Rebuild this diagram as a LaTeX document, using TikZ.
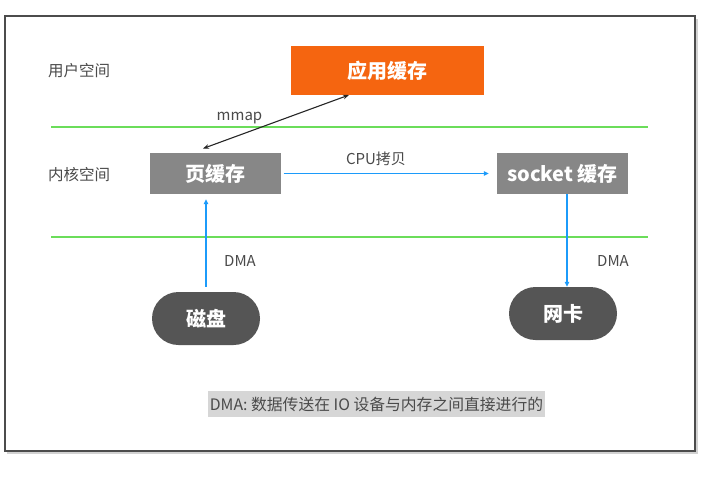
\documentclass[tikz,border=0pt]{standalone}
\usepackage{fontspec}
\setmainfont{Noto Sans CJK SC}
\usetikzlibrary{arrows.meta,positioning}
\definecolor{orangebox}{HTML}{F56510}
\definecolor{graybox}{HTML}{878787}
\definecolor{darkpill}{HTML}{555555}
\definecolor{linegreen}{HTML}{6BDD5A}
\definecolor{arrowblue}{HTML}{1C9BFA}
\definecolor{txtgray}{HTML}{4A4A4A}
\definecolor{notebg}{HTML}{D6D6D6}
\tikzset{
  boxstyle/.style={fill=graybox, text=white, font=\fontsize{20}{22}\selectfont\bfseries, minimum width=131pt, minimum height=41pt, inner sep=0pt},
  appstyle/.style={fill=orangebox, text=white, font=\fontsize{20}{22}\selectfont\bfseries, minimum width=193pt, minimum height=49pt, inner sep=0pt},
  pillstyle/.style={fill=darkpill, text=white, font=\fontsize{20}{22}\selectfont\bfseries, minimum width=108pt, minimum height=53pt, rounded corners=26.5pt, inner sep=0pt},
  lbl/.style={text=txtgray, font=\fontsize{15}{17}\selectfont, inner sep=0pt},
  zone/.style={text=txtgray, font=\fontsize{15.5}{17}\selectfont, inner sep=0pt, anchor=west},
  greenline/.style={draw=linegreen, line width=1.3pt},
  bluearrow/.style={draw=arrowblue, line width=1.2pt, -{Triangle[length=5pt,width=4.5pt]}},
  blackarrow/.style={draw=black!85, line width=1.1pt, {Stealth[length=6pt,width=4.5pt]}-{Stealth[length=6pt,width=4.5pt]}}
}
\begin{document}
\begin{tikzpicture}[x=1pt,y=-1pt]
\useasboundingbox (0,0) rectangle (705,483);
% frame with shadow
\fill[gray!35] (7,18.5) rectangle (697.5,453.5);
\fill[white] (5,16) rectangle (695,451);
\draw[draw=black!70, line width=1.4pt] (5,16) rectangle (695,451);
% separators
\draw[greenline] (51,127) -- (648,127);
\draw[greenline] (51,237) -- (648,237);
% zone labels
\node[zone] (userzone) at (48,71) {用户空间};
\node[zone] (kernelzone) at (48,174.5) {内核空间};
% boxes
\node[appstyle] (app) at (387.5,70.5) {应用缓存};
\node[boxstyle] (page) at (215,173.5) {页缓存};
\node[boxstyle] (sock) at (562.5,173.5) {socket 缓存};
\node[pillstyle] (disk) at (206,318.5) {磁盘};
\node[pillstyle] (nic) at (563,313.5) {网卡};
% connectors
\coordinate (mmapA) at (349,95);
\coordinate (mmapB) at (203,148.5);
\draw[blackarrow] (mmapB) -- (mmapA);
\node[lbl] (mmaplbl) at (239.5,118) {mmap};
\draw[bluearrow] ([xshift=3pt]page.east) -- ([xshift=-8pt]sock.west);
\node[lbl] (cpulbl) at (376,159) {CPU拷贝};
\draw[bluearrow] ([yshift=5pt]disk.north) -- ([yshift=-5pt]disk.north |- page.south);
\node[lbl] (dma1) at (240,261) {DMA};
\draw[bluearrow] ([xshift=4.5pt]sock.south) -- ([xshift=4pt]nic.north);
\node[lbl] (dma2) at (613,261) {DMA};
% note
\node[fill=notebg, text=txtgray, font=\fontsize{15.8}{17}\selectfont, minimum width=337pt, minimum height=26pt, inner sep=0pt] (note) at (376.5,404) {DMA: 数据传送在 IO 设备与内存之间直接进行的};
\end{tikzpicture}
\end{document}
